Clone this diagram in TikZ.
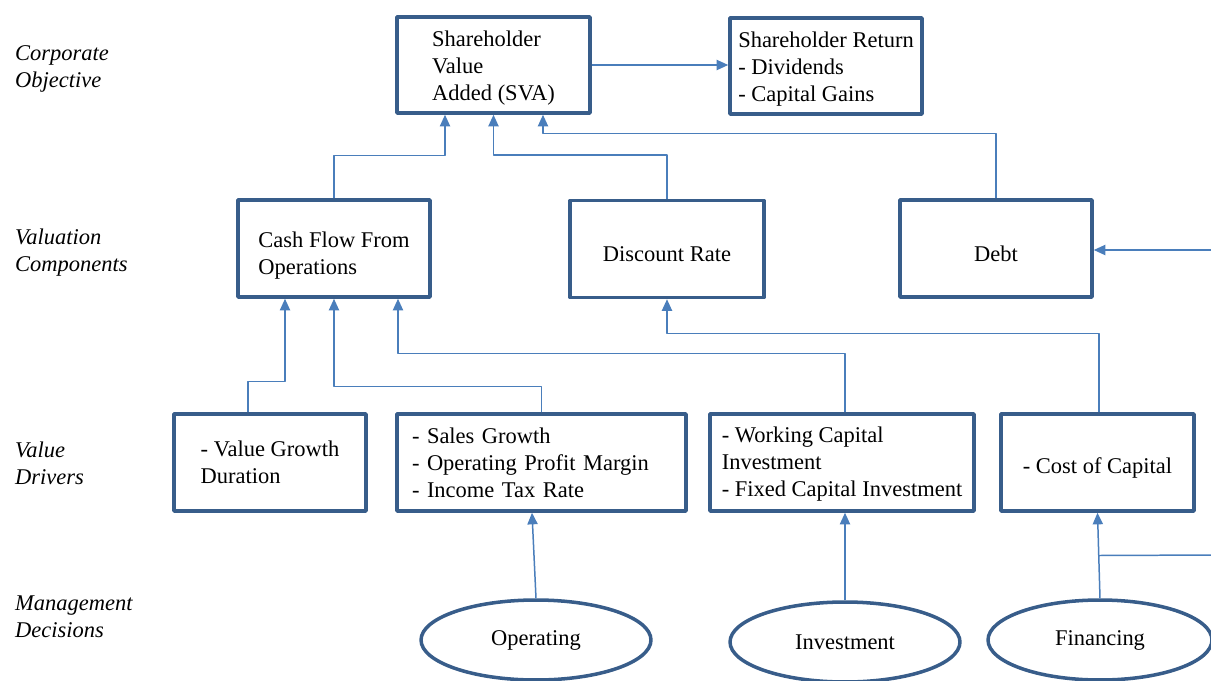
\documentclass[tikz,border=0pt]{standalone}
\usepackage{fontspec}
\setmainfont{Liberation Serif}
\usetikzlibrary{arrows.meta,shapes.geometric,calc}
\definecolor{boxblue}{HTML}{385D8A}
\definecolor{linkblue}{HTML}{4A7EBB}
\newcommand{\topstrut}[1]{\rule{0pt}{#1}}
\begin{document}
\begin{tikzpicture}[x=0.02cm,y=-0.02cm,line join=round,font=\fontsize{12.8}{15.3}\selectfont]
    \tikzset{box/.style={draw=boxblue,line width=2pt,align=left,minimum width=3.84cm,minimum height=1.94cm},
             decision/.style={ellipse,draw=boxblue,line width=2pt,minimum width=4.6cm,minimum height=1.6cm},
             level/.style={anchor=west,align=left,font=\fontsize{12.8}{15.3}\selectfont\itshape},
             conn/.style={draw=linkblue,line width=0.85pt,-{Triangle[width=5.8pt,length=6.6pt]}}}
    \clip (0,0) rectangle (1211,680);
    \node[level] (lco) at (9,69) {Corporate\\Objective};
    \node[level] (lvc) at (9,253) {Valuation\\Components};
    \node[level] (lvd) at (9,463.5) {Value\\Drivers};
    \node[level] (lmd) at (9,616.5) {Management\\Decisions};
    \node[box,minimum width=3.86cm,minimum height=1.92cm] (sva) at (493.5,65) {\topstrut{12.2pt}Shareholder\\Value\\Added (SVA)};
    \node[box,minimum height=1.92cm] (ret) at (826,66) {\topstrut{12.2pt}Shareholder Return\\- Dividends\\- Capital Gains};
    \node[box] (cf) at (334,248.5) {\topstrut{16.7pt}Cash Flow From\\Operations};
    \node[box,minimum width=3.88cm] (dr) at (667,249) {\topstrut{14.4pt}Discount Rate};
    \node[box] (debt) at (996,248.5) {\topstrut{14.4pt}Debt};
    \node[box] (vg) at (270,462.5) {- Value Growth\\Duration};
    \node[box,text width=5.18cm,inner xsep=0.3cm] (sal) at (541.5,462.5) {- Sales Growth\\- Operating Profit Margin\\- Income Tax Rate};
    \node[box,minimum width=5.28cm] (wk) at (842,462.5) {\topstrut{10.8pt}- Working Capital\\Investment\\- Fixed Capital Investment};
    \node[box,minimum width=3.86cm] (cc) at (1097.5,462.5) {\topstrut{15pt}- Cost of Capital};
    \node[decision] (op) at (536,640) {Operating};
    \node[decision] (inv) at (845,642) {Investment};
    \node[decision,minimum width=4.48cm] (fin) at (1100,640) {Financing};
    \draw[conn] (sva.east) -- (sva.east -| ret.west);
    \draw[conn] (cf.north) -- ++(0,-43) -| ([xshift=-0.97cm]sva.south);
    \draw[conn] (dr.north) -- ++(0,-44) -| (sva.south);
    \draw[conn] (debt.north) -- ++(0,-65) -| ([xshift=0.99cm]sva.south);
    \draw[conn] ([xshift=-0.44cm]vg.north) -- ++(0,-31) -| ([xshift=-0.98cm]cf.south);
    \draw[conn] (sal.north) -- ++(0,-26) -| (cf.south);
    \draw[conn] ([xshift=0.06cm]wk.north) -- ++(0,-59) -| ([xshift=1.28cm]cf.south);
    \draw[conn] ([xshift=0.03cm]cc.north) -- ++(0,-79) -| (dr.south);
    \draw[conn] (op.north) -- ([xshift=-0.19cm]sal.south);
    \draw[conn] (inv.north) -- (inv.north |- wk.south);
    \draw[conn] (fin.north) -- (cc.south);
    \coordinate (fj) at ($(fin.north)!0.5!(cc.south)$);
    \coordinate (fr) at (1215,555);
    \draw[draw=linkblue,line width=0.85pt] (fj) -- (fr);
    \coordinate (dr0) at (1215,250);
    \draw[conn] (dr0) -- (dr0 -| debt.east);
\end{tikzpicture}
\end{document}
